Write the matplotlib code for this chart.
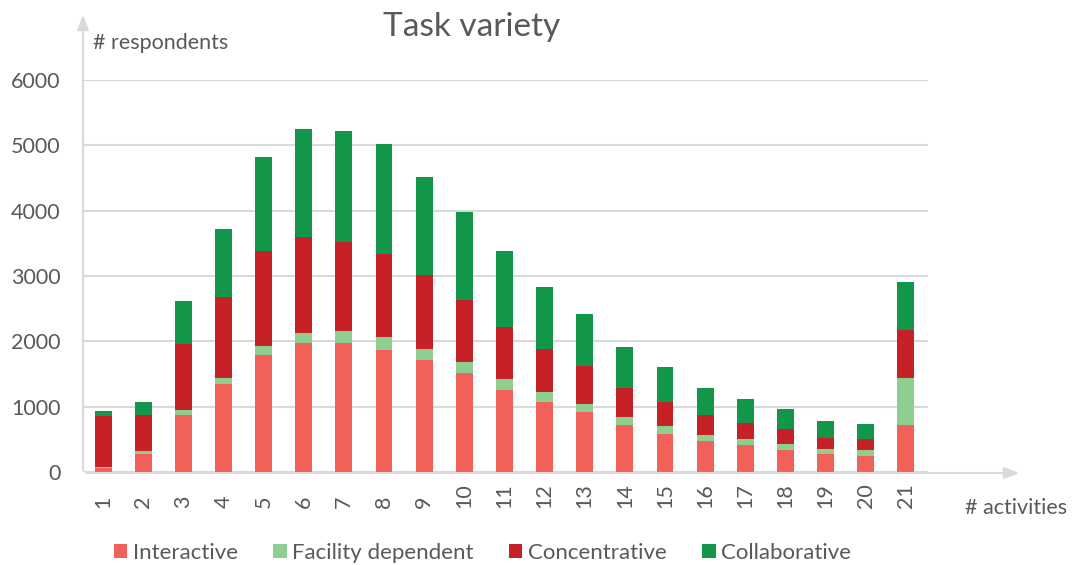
import matplotlib
matplotlib.use("Agg")
import matplotlib.pyplot as plt
import matplotlib.transforms as mtransforms
import numpy as np

categories = [str(i) for i in range(1, 22)]
interactive = [55, 272, 880, 1347, 1791, 1970, 1970, 1867, 1709, 1508, 1252, 1074, 916, 717, 589, 471, 410, 340, 268, 242, 722]
facility = [25, 46, 75, 97, 143, 163, 183, 195, 179, 173, 174, 154, 132, 128, 112, 98, 88, 92, 81, 98, 720]
concentrative = [775, 562, 1005, 1230, 1449, 1469, 1373, 1280, 1122, 959, 796, 657, 567, 438, 373, 301, 255, 219, 179, 168, 724]
collaborative = [85, 195, 650, 1046, 1434, 1643, 1694, 1674, 1500, 1337, 1158, 950, 811, 633, 526, 419, 357, 306, 245, 230, 739]
series_names = ["Interactive", "Facility dependent", "Concentrative", "Collaborative"]
yticks = [0, 1000, 2000, 3000, 4000, 5000, 6000]

colors = ["#F2605A", "#8FCE91", "#C62127", "#129649"]
txt = "#595959"
grid = "#D9D9D9"
fs = 15.5

plt.rcParams['font.family'] = ['Lato', 'DejaVu Sans']

fig = plt.figure(figsize=(10.72, 5.65), dpi=100)
ax = fig.add_axes([83/1072, 1-472/565, (928-83)/1072, (472-80)/565])

x = np.arange(1, len(categories)+1)
bottom = np.zeros(len(categories))
handles = []
for name, vals, c in zip(series_names, [interactive, facility, concentrative, collaborative], colors):
    b = ax.bar(x, vals, width=0.42, bottom=bottom, color=c, label=name, zorder=3)
    handles.append(b)
    bottom += np.array(vals)

ax.set_xlim(0.5, 21.55)
ax.set_ylim(0, 6000)
ax.set_yticks(yticks)
ax.set_yticklabels([str(v) for v in yticks], fontsize=fs, color=txt)
ax.set_xticks(x)
ax.set_xticklabels([])
ax.tick_params(axis='both', length=0)
ax.tick_params(axis='y', pad=16)
ax.yaxis.grid(True, color=grid, lw=1.5, zorder=0)
ax.set_axisbelow(True)
for s in ax.spines.values():
    s.set_visible(False)

# overlay in pixel coordinates
fig_ax = fig.add_axes([0, 0, 1, 1], facecolor='none')
fig_ax.set_xlim(0, 1072)
fig_ax.set_ylim(565, 0)
fig_ax.axis('off')

# x tick labels, rotated, aligned at their start
trans = mtransforms.blended_transform_factory(ax.transData, fig_ax.transData)
for xi, lab in zip(x, categories):
    fig_ax.text(xi, 508, lab, transform=trans, rotation=90, ha='center', va='bottom',
                fontsize=fs, color=txt)

fig_ax.annotate("", xy=(83, 12), xytext=(83, 473),
                arrowprops=dict(arrowstyle="-|>,head_length=0.9,head_width=0.35", color=grid, lw=1.5))
fig_ax.annotate("", xy=(1022, 473), xytext=(83, 473),
                arrowprops=dict(arrowstyle="-|>,head_length=0.9,head_width=0.35", color=grid, lw=1.5))

fig_ax.text(472, 27, "Task variety", fontsize=24, color=txt, ha='center', va='center')
fig_ax.text(93, 43, "# respondents", fontsize=fs, color=txt, ha='left', va='center')
fig_ax.text(1067, 508, "# activities", fontsize=fs, color=txt, ha='right', va='center')

fig.legend(handles=handles, labels=series_names, loc='center', bbox_to_anchor=(482.5/1072, 1-553/565),
           ncol=4, frameon=False, fontsize=16, labelcolor=txt, handlelength=0.6, handleheight=0.6,
           handletextpad=0.25, columnspacing=1.6)

fig.savefig("out.png", dpi=100)
